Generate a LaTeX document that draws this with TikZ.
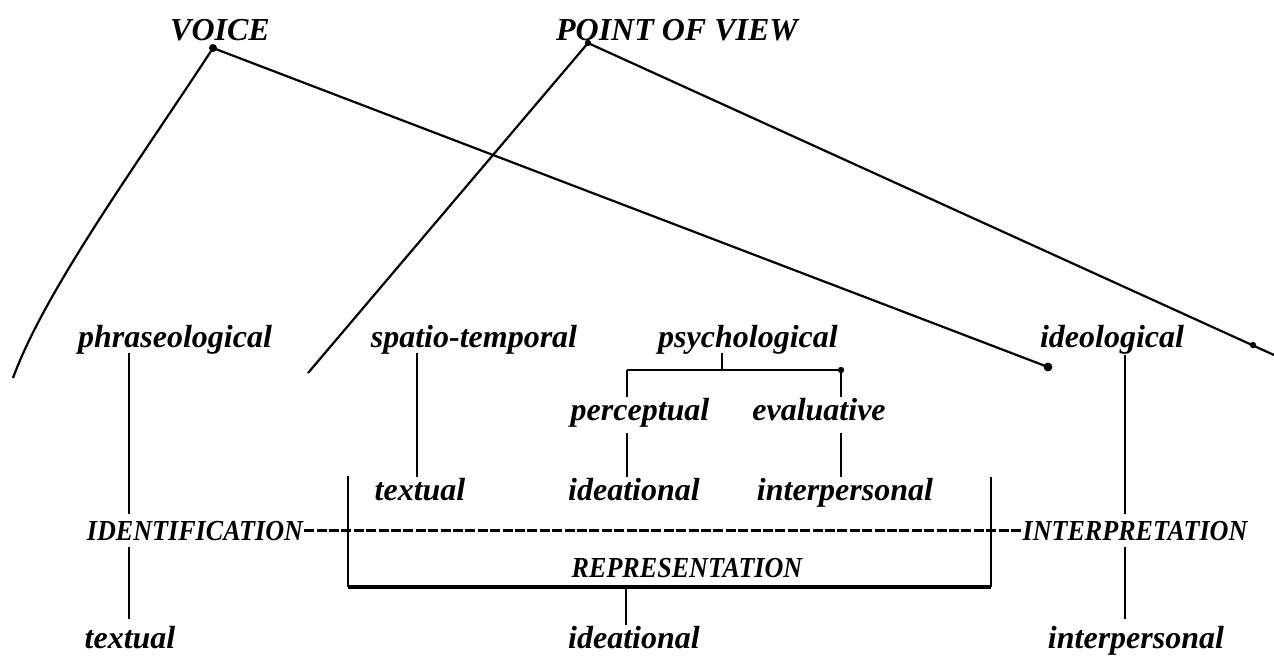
\documentclass[tikz,border=0pt]{standalone}
\usepackage{fontspec}
\setmainfont{Liberation Serif}
\newfontfamily\capsfont[FakeStretch=0.9]{Liberation Serif}
\usetikzlibrary{calc}
\usetikzlibrary{positioning}

\tikzset{
  lbl/.style={font=\fontsize{16}{18}\selectfont\bfseries\itshape, inner sep=0pt, anchor=base},
  caplbl/.style={font=\fontsize{14.5}{16}\capsfont\bfseries\itshape, inner sep=0pt, anchor=base},
  dashrule/.style={dash pattern=on 5pt off 1.2pt, line width=1.2pt},
  gap/.style={shorten <=3pt, shorten >=3pt}
}

\begin{document}
\begin{tikzpicture}[x=0.5pt, y=-0.5pt, line width=1.1pt]
    \useasboundingbox (0,0) rectangle (1274,655);

    % Headings
    \node[lbl] (voice) at (220,40) {VOICE};
    \node[lbl] (pov) at (677,40) {POINT OF VIEW};
    \coordinate (voicetop) at (213,48);
    \coordinate (povtop) at (588,43);
    \coordinate (voiceL) at (13,378);
    \coordinate (voiceR) at (1048,367);
    \coordinate (povL) at (308,373);
    \coordinate (povR) at (1274,355);

    \draw (voicetop) .. controls (140,160) and (45,290) .. (voiceL);
    \draw (voicetop) -- (voiceR);
    \draw (povtop) -- (povL);
    \draw (povtop) -- (povR);
    \fill (voicetop) circle (2pt);
    \fill (povtop) circle (1.6pt);
    \fill (voiceR) circle (2.2pt);
    \fill (1253,345) circle (1.6pt);

    % First row
    \node[lbl] (phraseo) at (175,347) {phraseological};
    \node[lbl] (spatio) at (474,347) {spatio-temporal};
    \node[lbl] (psycho) at (748,347) {psychological};
    \node[lbl] (ideo) at (1112,347) {ideological};

    % Psychological split
    \node[lbl] (percep) at (640,420) {perceptual};
    \node[lbl] (evalu) at (819,420) {evaluative};
    \coordinate (psyS) at (722,353);
    \coordinate (psyL) at (627,370);
    \coordinate (psyR) at (841,370);
    \draw (psyS) -- (psyS |- psyL);
    \draw (psyL) -- (psyR);
    \draw (psyL) -- (psyL |- percep.north);
    \draw (psyR) -- (psyR |- percep.north);
    \fill (psyR) circle (1.6pt);

    % Second row
    \node[lbl] (textA) at (420,500) {textual};
    \node[lbl] (ideaA) at (634,500) {ideational};
    \node[lbl] (interA) at (845,500) {interpersonal};
    \coordinate (spatioS) at (417,353);
    \coordinate (percepS) at (627,433);
    \coordinate (evaluS) at (841,433);
    \draw (spatioS) -- (spatioS |- textA.north);
    \draw (percepS) -- (percepS |- ideaA.north);
    \draw (evaluS) -- (evaluS |- interA.north);

    % Middle band
    \node[caplbl] (ident) at (195,540) {IDENTIFICATION};
    \node[caplbl] (interp) at (1135,540) {INTERPRETATION};
    \node[caplbl] (repr) at (687,577) {REPRESENTATION};
    \draw[dashrule] (ident.east) -- (interp.west);

    \coordinate (boxTL) at (348,476);
    \coordinate (boxBL) at (348,587);
    \coordinate (boxBR) at (991,587);
    \coordinate (boxTR) at (991,477);
    \draw (boxTL) -- (boxBL);
    \draw (boxTR) -- (boxBR);
    \draw[line width=1.6pt] (boxBL) -- (boxBR);

    % Bottom row
    \node[lbl] (textB) at (130,648) {textual};
    \node[lbl] (ideaB) at (634,648) {ideational};
    \node[lbl] (interB) at (1136,648) {interpersonal};
    \coordinate (phraseoS) at (129,353);
    \coordinate (ideoS) at (1125,355);
    \coordinate (reprS) at (626,587);
    \draw[shorten >=3pt] (phraseoS) -- (phraseoS |- ident.north);
    \draw[gap] (phraseoS |- ident.south) -- (phraseoS |- textB.north);
    \draw[shorten >=3pt] (ideoS) -- (ideoS |- interp.north);
    \draw[gap] (ideoS |- interp.south) -- (ideoS |- interB.north);
    \draw (reprS) -- (reprS |- ideaB.north);
\end{tikzpicture}
\end{document}
